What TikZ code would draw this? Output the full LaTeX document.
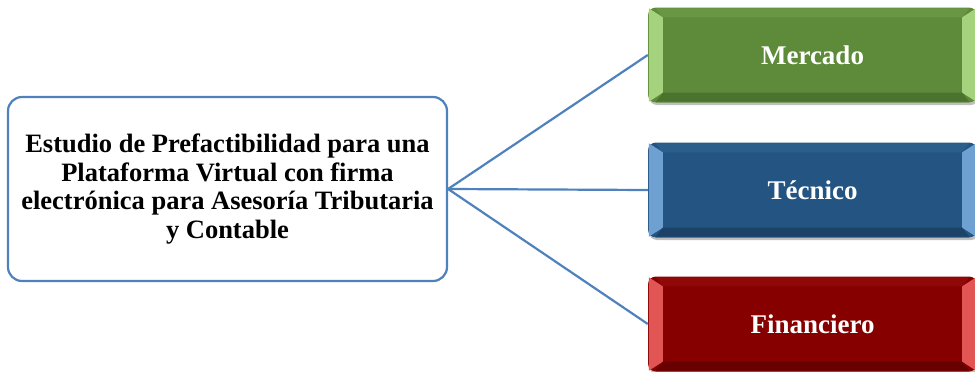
\documentclass[tikz,border=0pt]{standalone}
\usepackage{fontspec}
\setmainfont{Liberation Serif}
\usetikzlibrary{calc}
\definecolor{lineblue}{RGB}{79,129,189}
\definecolor{gbase}{RGB}{94,139,58}
\definecolor{glight}{RGB}{165,210,125}
\definecolor{gtop}{RGB}{104,150,66}
\definecolor{gdark}{RGB}{76,115,45}
\definecolor{bbase}{RGB}{36,84,130}
\definecolor{blight}{RGB}{110,160,210}
\definecolor{btop}{RGB}{44,94,140}
\definecolor{bdark}{RGB}{28,66,104}
\definecolor{rbase}{RGB}{134,0,0}
\definecolor{rlight}{RGB}{225,85,85}
\definecolor{rtop}{RGB}{145,8,8}
\definecolor{rdark}{RGB}{104,0,0}
\tikzset{
  mainbox/.style={draw=lineblue, line width=2.2pt, rounded corners=14pt, fill=white,
    minimum width=439pt, minimum height=184pt, align=center,
    font=\bfseries\fontsize{26.5}{28.5}\selectfont},
  catbox/.style={rounded corners=8pt, minimum width=329pt, minimum height=95pt},
  cattext/.style={text=white, font=\bfseries\fontsize{27}{30}\selectfont},
  conn/.style={draw=lineblue, line width=2.2pt},
}
\newcommand{\bevelbox}[4]{%
  \fill[#3] ($(#1.north west)+(1,1)$) -- ($(#1.north west)+(15,10)$) -- ($(#1.south west)+(15,-10)$) -- ($(#1.south west)+(1,-1)$) -- cycle;
  \fill[#3] ($(#1.north east)+(-1,1)$) -- ($(#1.north east)+(-15,10)$) -- ($(#1.south east)+(-15,-10)$) -- ($(#1.south east)+(-1,-1)$) -- cycle;
  \fill[#2] ($(#1.north west)+(8,1)$) -- ($(#1.north east)+(-8,1)$) -- ($(#1.north east)+(-15,10)$) -- ($(#1.north west)+(15,10)$) -- cycle;
  \fill[#4] ($(#1.south west)+(8,-1)$) -- ($(#1.south east)+(-8,-1)$) -- ($(#1.south east)+(-15,-10)$) -- ($(#1.south west)+(15,-10)$) -- cycle;
}
\begin{document}
\begin{tikzpicture}[x=1pt,y=-1pt]
\useasboundingbox (0,0) rectangle (975,372);
\clip (0,0) rectangle (975,372);
\node[mainbox] (main) at (227.5,189) {Estudio de Prefactibilidad para una\\ Plataforma Virtual con firma\\ electrónica para Asesoría Tributaria\\ y Contable};
% shadows
\fill[black!25, rounded corners=8pt] (649,10) rectangle (979,105);
\fill[black!25, rounded corners=8pt] (649,145) rectangle (979,240);
\fill[black!25, rounded corners=8pt] (649,279) rectangle (979,374);
\node[catbox, fill=gbase] (m) at (812.5,55) {};
\node[catbox, fill=bbase] (t) at (812.5,190) {};
\node[catbox, fill=rbase] (f) at (812.5,324) {};
\bevelbox{m}{gtop}{glight}{gdark}
\bevelbox{t}{btop}{blight}{bdark}
\bevelbox{f}{rtop}{rlight}{rdark}
\node[cattext] (mlabel) at (m.center) {Mercado};
\node[cattext] (tlabel) at (t.center) {Técnico};
\node[cattext] (flabel) at (f.center) {Financiero};
\draw[conn] (main.east) -- (m.west);
\draw[conn] (main.east) -- (t.west);
\draw[conn] (main.east) -- (f.west);
\end{tikzpicture}
\end{document}
